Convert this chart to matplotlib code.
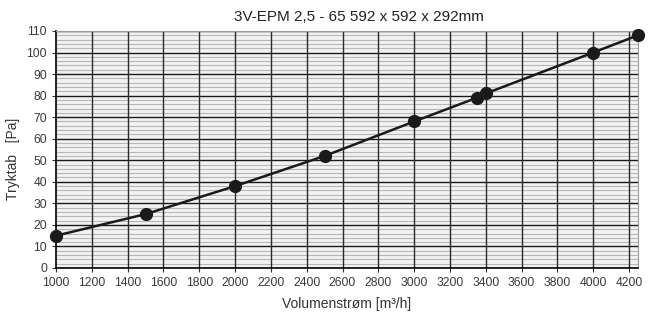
import numpy as np
import matplotlib
matplotlib.use("Agg")
import matplotlib.pyplot as plt

plt.rcParams['font.family'] = ['Liberation Sans', 'DejaVu Sans']

flow = [1000, 1500, 2000, 2500, 3000, 3350, 3400, 4000, 4250]
drop = [15, 25, 38, 52, 68, 79, 81, 100, 108]
xticks = list(range(1000, 4201, 200))
yticks = list(range(0, 111, 10))

fig = plt.figure(figsize=(6.53, 3.13), dpi=100)
ax = fig.add_axes([0.0858, 0.1438, 0.8912, 0.7572])
ax.set_facecolor('#f2f2f2')

ax.set_xlim(1000, 4250)
ax.set_ylim(0, 110)
ax.set_xticks(xticks)
ax.set_yticks(yticks)

# fine horizontal lines every 2 Pa, under the main grid
for y in np.arange(2, 110, 2):
    if y % 10:
        ax.axhline(y, color='#b8b8b8', lw=0.8, zorder=0.5)
for y in yticks[1:]:
    ax.axhline(y, color='#1a1a1a', lw=1.0, zorder=1)
for x in xticks[1:]:
    ax.axvline(x, color='#2a2a2a', lw=1.0, zorder=1)

ax.plot(flow, drop, color='#1a1a1a', lw=1.8, marker='o', ms=8.5, clip_on=False, zorder=5)

for s in ['top', 'right']:
    ax.spines[s].set_color('#999999')
    ax.spines[s].set_linewidth(0.8)
for s in ['left', 'bottom']:
    ax.spines[s].set_color('black')
    ax.spines[s].set_linewidth(1.2)

ax.tick_params(labelsize=8.7, length=3, color='#333333', labelcolor='#3a3a3a')

ax.set_title('3V-EPM 2,5 - 65 592 x 592 x 292mm', fontsize=11, color='#222222', pad=7, x=0.52)
ax.set_xlabel('Volumenstrøm [m³/h]', fontsize=10, color='#333333', labelpad=6)
ax.set_ylabel('Tryktab   [Pa]', fontsize=10, color='#333333', labelpad=5, y=0.46)

fig.savefig('out.png', dpi=100)
